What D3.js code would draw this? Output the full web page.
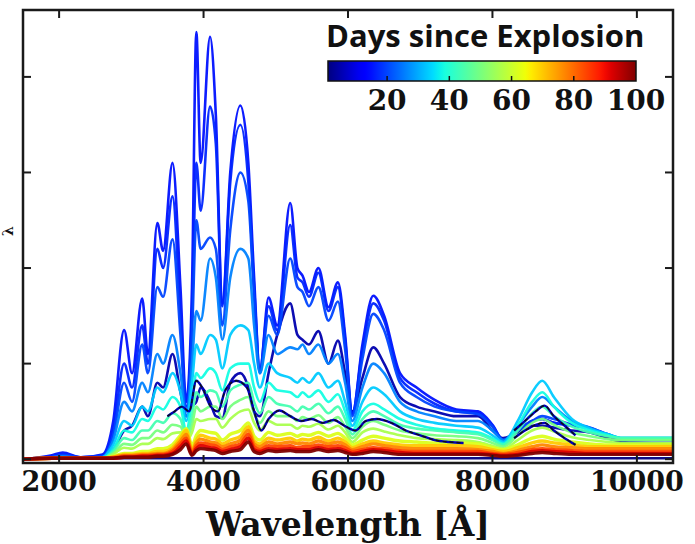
<!DOCTYPE html>
<html>
<head>
<meta charset="utf-8">
<script src="https://cdn.jsdelivr.net/npm/d3@7"></script>
<style>
  html, body { margin: 0; padding: 0; background: #fff; }
  svg { display: block; }
</style>
</head>
<body>
<svg id="chart" width="695" height="544"></svg>
<script>
// ---------------- DATA ----------------
const wavelengths = [1500,1900,2050,2300,2600,2750,2900,3010,3150,3230,3360,3440,3570,3680,3760,3840,3900,3960,4090,4170,4260,4370,4510,4620,4700,4780,4900,5020,5200,5300,5370,5460,5590,5730,5860,5960,6060,6200,6350,6500,6720,6950,7200,7500,7800,8000,8150,8350,8550,8690,8850,9100,9350,9600,9800,10100,10500];

const flux_day1 = [0.01,0.01,0.01,0.01,0.01,0.01,0.01,0.01,0.01,0.01,0.01,0.01,0.01,0.01,0.01,0.01,0.01,0.01,0.01,0.01,0.01,0.01,0.01,0.01,0.01,0.01,0.01,0.01,0.01,0.01,0.01,0.01,0.01,0.01,0.01,0.01,0.01,0.01,0.01,0.01,0.01,0.01,0.01,0.01,0.01,0.01,0.01,0.01,0.01,0.01,0.01,0.01,0.01,0.01,0.01,0.01,0.01];
const flux_day5 = [0,0.02,0.03,0.01,0.02,0.1,0.3,0.35,0.55,0.45,0.8,0.75,1.1,0.7,0.45,0.55,0.6,0.75,0.6,0.45,0.43,0.8,0.9,0.75,0.5,0.45,0.9,1.3,1.63,1.3,1.25,1.2,1.34,1.0,1.24,0.9,0.5,0.85,1.17,1.0,0.65,0.55,0.5,0.45,0.45,0.3,0.22,0.28,0.35,0.35,0.33,0.3,0.28,0.22,0.18,0.17,0.16];
const flux_day15 = [0,0.04,0.07,0.02,0.05,0.4,1.35,0.9,1.68,1.1,2.47,2.18,3.1,1.8,0.6,1.8,4.47,3.1,4.42,3.6,1.63,3.0,3.7,3.1,1.9,0.92,1.69,1.4,2.68,2.0,1.92,1.75,2.0,1.59,1.85,1.3,0.47,1.2,1.71,1.5,0.9,0.75,0.62,0.52,0.5,0.36,0.2,0.3,0.4,0.42,0.38,0.36,0.33,0.26,0.21,0.2,0.2];
const flux_day17 = [0,0.03,0.05,0.02,0.04,0.3,1.0,0.75,1.4,1.0,2.2,2.0,2.75,1.5,0.55,1.5,3.1,2.6,3.69,3.3,1.6,2.9,3.5,2.9,1.8,0.95,1.6,1.35,2.45,1.9,1.85,1.7,1.95,1.55,1.8,1.25,0.48,1.15,1.63,1.45,0.85,0.7,0.58,0.5,0.48,0.35,0.2,0.3,0.4,0.42,0.38,0.35,0.32,0.25,0.2,0.2,0.2];
const flux_day20 = [0,0.02,0.04,0.02,0.03,0.25,0.8,0.6,1.2,0.9,1.8,1.7,2.3,1.3,0.5,1.3,2.5,2.2,2.32,2.2,1.4,2.4,3.0,2.7,1.7,0.9,1.5,1.3,2.1,1.8,1.75,1.6,1.8,1.45,1.65,1.15,0.45,1.05,1.52,1.35,0.8,0.65,0.55,0.5,0.47,0.34,0.2,0.3,0.4,0.45,0.42,0.36,0.32,0.25,0.2,0.2,0.2];
const flux_day26 = [0,0.02,0.03,0.01,0.02,0.2,0.6,0.5,0.8,0.7,1.1,1.0,1.3,0.9,0.45,1.0,1.55,1.45,2.1,1.9,1.25,1.9,2.2,2.1,1.4,0.9,1.3,1.1,1.17,1.15,1.2,1.1,1.2,1.0,1.1,0.8,0.4,0.75,1.0,0.9,0.6,0.5,0.45,0.4,0.4,0.3,0.2,0.35,0.55,0.65,0.55,0.4,0.33,0.26,0.22,0.22,0.22];
const flux_day33 = [0,0.01,0.02,0.01,0.02,0.15,0.4,0.35,0.55,0.5,0.75,0.7,0.9,0.7,0.4,0.8,1.2,1.1,1.3,1.25,0.95,1.3,1.4,1.35,1.0,0.75,1.0,0.9,0.85,0.8,0.85,0.8,0.9,0.75,0.82,0.6,0.35,0.6,0.75,0.68,0.5,0.42,0.38,0.35,0.33,0.25,0.18,0.4,0.7,0.82,0.65,0.42,0.32,0.26,0.22,0.22,0.22];
const flux_day38 = [0,0.01,0.02,0.01,0.01,0.1,0.3,0.28,0.42,0.4,0.55,0.52,0.65,0.55,0.3,0.6,0.9,0.85,0.95,0.9,0.72,0.95,1.0,1.0,0.75,0.6,0.8,0.72,0.7,0.65,0.7,0.65,0.72,0.6,0.68,0.5,0.3,0.5,0.58,0.52,0.42,0.36,0.32,0.3,0.28,0.22,0.16,0.35,0.6,0.7,0.55,0.38,0.3,0.25,0.22,0.22,0.22];
const flux_day44 = [0,0.01,0.01,0.01,0.01,0.08,0.22,0.2,0.3,0.3,0.4,0.38,0.48,0.42,0.25,0.45,0.7,0.65,0.72,0.7,0.55,0.72,0.78,0.8,0.6,0.48,0.65,0.58,0.55,0.5,0.55,0.52,0.58,0.48,0.55,0.42,0.26,0.42,0.5,0.45,0.36,0.32,0.3,0.28,0.26,0.2,0.15,0.3,0.48,0.55,0.45,0.34,0.28,0.24,0.22,0.22,0.22];
const flux_day50 = [0,0.01,0.01,0.01,0.01,0.06,0.16,0.15,0.22,0.22,0.3,0.28,0.36,0.34,0.22,0.35,0.55,0.5,0.55,0.55,0.42,0.55,0.62,0.65,0.48,0.38,0.5,0.45,0.45,0.4,0.44,0.42,0.46,0.38,0.44,0.34,0.22,0.34,0.4,0.36,0.3,0.27,0.25,0.24,0.22,0.17,0.13,0.25,0.38,0.42,0.36,0.28,0.24,0.21,0.2,0.2,0.2];
const flux_day56 = [0,0.01,0.01,0.01,0.01,0.05,0.12,0.11,0.16,0.16,0.22,0.21,0.27,0.28,0.2,0.28,0.42,0.4,0.42,0.42,0.33,0.42,0.5,0.52,0.38,0.3,0.4,0.36,0.36,0.32,0.35,0.34,0.37,0.31,0.35,0.28,0.18,0.28,0.32,0.29,0.25,0.22,0.21,0.2,0.18,0.14,0.11,0.2,0.3,0.33,0.29,0.23,0.2,0.18,0.17,0.17,0.17];
const flux_day62 = [0,0.01,0.01,0.01,0.01,0.03,0.06,0.06,0.08,0.08,0.11,0.11,0.15,0.25,0.32,0.14,0.25,0.3,0.28,0.27,0.2,0.26,0.3,0.38,0.24,0.2,0.28,0.25,0.27,0.24,0.26,0.25,0.28,0.24,0.27,0.22,0.15,0.2,0.24,0.22,0.19,0.18,0.17,0.17,0.16,0.12,0.1,0.15,0.22,0.24,0.21,0.18,0.16,0.15,0.15,0.15,0.15];
const flux_day70 = [0,0.01,0.01,0.01,0.01,0.02,0.05,0.05,0.06,0.06,0.08,0.08,0.12,0.22,0.3,0.1,0.2,0.25,0.22,0.21,0.16,0.2,0.24,0.34,0.19,0.16,0.22,0.2,0.22,0.19,0.21,0.2,0.23,0.19,0.22,0.18,0.12,0.16,0.19,0.17,0.15,0.14,0.14,0.14,0.13,0.1,0.08,0.12,0.17,0.19,0.17,0.15,0.13,0.13,0.13,0.13,0.13];
const flux_day77 = [0,0.01,0.01,0.01,0.01,0.02,0.04,0.04,0.05,0.05,0.06,0.06,0.1,0.19,0.26,0.08,0.17,0.21,0.18,0.17,0.13,0.16,0.2,0.3,0.16,0.13,0.18,0.16,0.18,0.16,0.17,0.16,0.19,0.16,0.18,0.15,0.1,0.13,0.16,0.14,0.12,0.11,0.11,0.11,0.1,0.08,0.06,0.09,0.13,0.15,0.13,0.12,0.11,0.11,0.11,0.11,0.11];
const flux_day84 = [0,0.01,0.01,0.01,0.01,0.01,0.03,0.03,0.04,0.04,0.05,0.05,0.08,0.16,0.22,0.06,0.14,0.17,0.15,0.14,0.1,0.13,0.16,0.26,0.13,0.1,0.14,0.13,0.14,0.12,0.13,0.13,0.15,0.13,0.14,0.12,0.08,0.1,0.12,0.11,0.09,0.08,0.08,0.08,0.08,0.06,0.05,0.07,0.1,0.11,0.1,0.09,0.08,0.08,0.08,0.08,0.08];
const flux_day92 = [0,0.01,0.01,0.01,0.01,0.01,0.02,0.02,0.03,0.03,0.04,0.04,0.06,0.13,0.19,0.05,0.11,0.14,0.12,0.11,0.08,0.1,0.13,0.22,0.1,0.08,0.11,0.1,0.11,0.1,0.1,0.1,0.12,0.1,0.11,0.09,0.06,0.08,0.1,0.09,0.07,0.06,0.06,0.06,0.06,0.05,0.04,0.05,0.08,0.09,0.08,0.07,0.06,0.06,0.06,0.06,0.06];
const flux_day100 = [0,0.01,0.01,0.01,0.01,0.01,0.02,0.02,0.02,0.02,0.03,0.03,0.05,0.1,0.16,0.04,0.09,0.11,0.1,0.09,0.06,0.08,0.1,0.18,0.08,0.06,0.09,0.08,0.09,0.08,0.08,0.08,0.1,0.08,0.09,0.07,0.05,0.06,0.08,0.07,0.05,0.05,0.05,0.05,0.05,0.04,0.03,0.04,0.06,0.07,0.06,0.05,0.05,0.05,0.05,0.05,0.05];

const modelDays = [1, 5, 15, 17, 20, 26, 33, 38, 44, 50, 56, 62, 70, 77, 84, 92, 100];
const modelFlux = [flux_day1, flux_day5, flux_day15, flux_day17, flux_day20, flux_day26, flux_day33, flux_day38, flux_day44, flux_day50, flux_day56, flux_day62, flux_day70, flux_day77, flux_day84, flux_day92, flux_day100];

// observed (dashed) spectra
const obsDay = 6;
const obsWave = [3500,3600,3700,3800,3900,3980,4100,4200,4300,4450,4600,4700,4800,4900,5050,5200,5350,5500,5650,5800,5950,6100,6250,6400,6600,6800,7000,7200,7400,7600];
const obsFlux = [0.45,0.5,0.55,0.5,0.82,0.75,0.55,0.5,0.72,0.82,0.75,0.5,0.3,0.42,0.51,0.45,0.4,0.42,0.38,0.41,0.35,0.3,0.4,0.42,0.38,0.3,0.25,0.2,0.18,0.17];
const caWave = [8300,8450,8600,8720,8850,9000,9150];
const caFluxA = [0.3,0.4,0.5,0.56,0.45,0.35,0.25];
const caFluxB = [0.22,0.3,0.36,0.38,0.3,0.22,0.15];

const xTicks = [2000, 4000, 6000, 8000, 10000];
const yTicks = [0, 1, 2, 3, 4];
const cbarTicks = [20, 40, 60, 80, 100];
const cbarDomain = [1, 100];

// ---------------- CHART ----------------
const svg = d3.select("#chart");
const L = 23, R = 673, T = 10, B = 463;

const x = d3.scaleLinear().domain([1500, 10500]).range([L, R]);
const y = d3.scaleLinear().domain([-0.04, 4.70]).range([B, T]);

// jet colormap
const jetR = d3.scaleLinear().domain([0,0.35,0.66,0.89,1]).range([0,0,1,1,0.5]).clamp(true);
const jetG = d3.scaleLinear().domain([0,0.125,0.375,0.64,0.91,1]).range([0,0,1,1,0,0]).clamp(true);
const jetB = d3.scaleLinear().domain([0,0.11,0.34,0.65,1]).range([0.5,1,1,0,0]).clamp(true);
function jet(t) {
  return d3.rgb(Math.round(255*jetR(t)), Math.round(255*jetG(t)), Math.round(255*jetB(t))).toString();
}
const dayT = d3.scaleLinear().domain(cbarDomain).range([0, 1]).clamp(true);
const dayColor = d => jet(dayT(d));

svg.append("defs").append("clipPath").attr("id", "plotclip")
  .append("rect").attr("x", L).attr("y", T).attr("width", R - L).attr("height", B - T);

const line = d3.line().x(d => x(d[0])).y(d => y(d[1])).curve(d3.curveMonotoneX);

const gLines = svg.append("g").attr("clip-path", "url(#plotclip)");

modelDays.forEach((day, i) => {
  const pts = wavelengths.map((w, j) => [w, modelFlux[i][j]]);
  gLines.append("path")
    .attr("d", line(pts))
    .attr("fill", "none")
    .attr("stroke", dayColor(day))
    .attr("stroke-width", day >= 60 ? 3.4 : 2.6)
    .attr("stroke-linejoin", "round")
    .attr("stroke-opacity", 0.95);
});

// observed dashed spectra
function dashed(ws, fs) {
  const pts = ws.map((w, j) => [w, fs[j]]);
  gLines.append("path").attr("d", line(pts)).attr("fill", "none")
    .attr("stroke", dayColor(obsDay)).attr("stroke-width", 2.4);
  gLines.append("path").attr("d", line(pts)).attr("fill", "none")
    .attr("stroke", "#111").attr("stroke-width", 1.4).attr("stroke-dasharray", "4,3");
}
dashed(obsWave, obsFlux);
dashed(caWave, caFluxA);
dashed(caWave, caFluxB);

// frame
svg.append("rect").attr("x", L).attr("y", T).attr("width", R - L).attr("height", B - T)
  .attr("fill", "none").attr("stroke", "#1a1a1a").attr("stroke-width", 2.5);

// ticks (inward, all four sides)
const tickLen = 8;
xTicks.forEach(v => {
  svg.append("line").attr("x1", x(v)).attr("x2", x(v)).attr("y1", B).attr("y2", B - tickLen)
    .attr("stroke", "#1a1a1a").attr("stroke-width", 2);
  svg.append("line").attr("x1", x(v)).attr("x2", x(v)).attr("y1", T).attr("y2", T + tickLen)
    .attr("stroke", "#1a1a1a").attr("stroke-width", 2);
});
yTicks.forEach(v => {
  svg.append("line").attr("x1", L).attr("x2", L + tickLen).attr("y1", y(v)).attr("y2", y(v))
    .attr("stroke", "#1a1a1a").attr("stroke-width", 2);
  svg.append("line").attr("x1", R).attr("x2", R - tickLen).attr("y1", y(v)).attr("y2", y(v))
    .attr("stroke", "#1a1a1a").attr("stroke-width", 2);
});

const serif = "'DejaVu Serif', serif";
xTicks.forEach(v => {
  svg.append("text").attr("x", x(v)).attr("y", 491)
    .attr("text-anchor", "middle")
    .style("font-family", serif).style("font-weight", "bold").style("font-size", "27px")
    .attr("fill", "#111")
    .text(d3.format("d")(v));
});

svg.append("text").attr("x", (L + R) / 2).attr("y", 536)
  .attr("text-anchor", "middle")
  .style("font-family", serif).style("font-weight", "bold").style("font-size", "33px")
  .attr("fill", "#111")
  .text("Wavelength [Å]");

// y label (only the subscript is shown in the reference)
svg.append("text").attr("transform", "translate(13,231) rotate(-90)")
  .attr("text-anchor", "middle")
  .style("font-family", serif).style("font-weight", "bold").style("font-size", "14px")
  .attr("fill", "#111").text("λ");

// ---------------- COLORBAR ----------------
const cbL = 328, cbR = 636, cbT = 61, cbB = 81;
const cbx = d3.scaleLinear().domain(cbarDomain).range([cbL, cbR]);
const grad = svg.select("defs").append("linearGradient").attr("id", "jetgrad")
  .attr("x1", "0%").attr("x2", "100%").attr("y1", "0%").attr("y2", "0%");
d3.range(0, 1.0001, 0.02).forEach(t => {
  grad.append("stop").attr("offset", (t * 100) + "%").attr("stop-color", jet(t));
});
svg.append("rect").attr("x", cbL).attr("y", cbT).attr("width", cbR - cbL).attr("height", cbB - cbT)
  .attr("fill", "url(#jetgrad)").attr("stroke", "#111").attr("stroke-width", 1.5);
cbarTicks.forEach(v => {
  if (v < 100) {
    svg.append("line").attr("x1", cbx(v)).attr("x2", cbx(v)).attr("y1", cbB).attr("y2", cbB - 5)
      .attr("stroke", "#111").attr("stroke-width", 1.5);
  }
  svg.append("text").attr("x", cbx(v)).attr("y", 110)
    .attr("text-anchor", "middle")
    .style("font-family", serif).style("font-weight", "bold").style("font-size", "28px")
    .attr("fill", "#111").text(v);
});
svg.append("text").attr("x", 326).attr("y", 47)
  .style("font-family", "'Open Sans', sans-serif").style("font-weight", "bold").style("font-size", "31px")
  .attr("fill", "#111").text("Days since Explosion");
</script>
</body>
</html>
